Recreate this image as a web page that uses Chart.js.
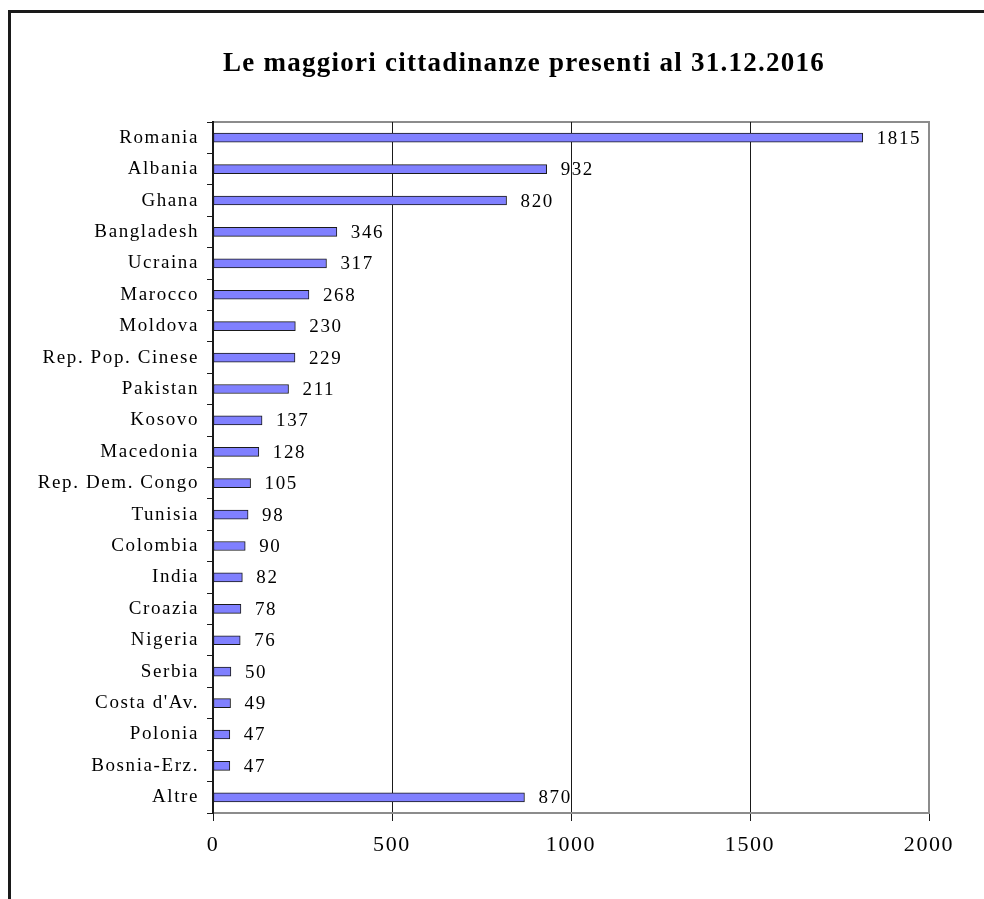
<!DOCTYPE html>
<html>
<head>
<meta charset="utf-8">
<script src="https://cdn.jsdelivr.net/npm/chart.js@4"></script>
<style>
  html, body { margin: 0; padding: 0; background: #fff; }
  #wrap { position: relative; width: 984px; height: 899px; }
  #frame {
    position: absolute; left: 8px; top: 10px; right: 0; bottom: 0;
    border-left: 3px solid #1a1a1a; border-top: 3px solid #1a1a1a;
  }
  canvas { position: absolute; left: 0; top: 0; }
</style>
</head>
<body>
<div id="wrap">
  <div id="frame"></div>
  <canvas id="chart" width="984" height="899"></canvas>
</div>
<script>
// Chart data
const chartTitle = "Le maggiori cittadinanze presenti al 31.12.2016"
const countries = [
  "Romania", "Albania", "Ghana", "Bangladesh", "Ucraina", "Marocco", "Moldova",
  "Rep. Pop. Cinese", "Pakistan", "Kosovo", "Macedonia", "Rep. Dem. Congo",
  "Tunisia", "Colombia", "India", "Croazia", "Nigeria", "Serbia",
  "Costa d'Av.", "Polonia", "Bosnia-Erz.", "Altre"
]
const residents = [
  1815, 932, 820, 346, 317, 268, 230,
  229, 211, 137, 128, 105,
  98, 90, 82, 78, 76, 50,
  49, 47, 47, 870
]
const xTicks = [0, 500, 1000, 1500, 2000]

const serif = "'Liberation Serif', 'DejaVu Serif', serif"

// gray frame round the plot area (drawn before the axes) + wide letter spacing for all text
const plotFrame = {
  id: "plotFrame",
  beforeDraw(chart) {
    const { ctx, chartArea: a } = chart
    ctx.letterSpacing = "1.6px"
    ctx.save()
    ctx.strokeStyle = "#8c8c8c"
    ctx.lineWidth = 2
    ctx.strokeRect(a.left, a.top, a.right - a.left, a.bottom - a.top)
    ctx.restore()
  },
}

// value labels at the end of each bar, and the title
const valueLabels = {
  id: "valueLabels",
  afterDatasetsDraw(chart) {
    const { ctx } = chart
    const meta = chart.getDatasetMeta(0)
    ctx.save()
    ctx.font = "19px " + serif
    ctx.fillStyle = "#000"
    ctx.textAlign = "left"
    ctx.textBaseline = "middle"
    meta.data.forEach((bar, i) => {
      ctx.fillText(String(residents[i]), bar.x + 14, bar.y + 1)
    })
    ctx.restore()
  },
  afterDraw(chart) {
    const { ctx } = chart
    ctx.save()
    ctx.letterSpacing = "1.25px"
    ctx.font = "bold 27px " + serif
    ctx.fillStyle = "#000"
    ctx.textAlign = "left"
    ctx.textBaseline = "alphabetic"
    ctx.fillText(chartTitle, 223, 71)
    ctx.restore()
  },
}

new Chart(document.getElementById("chart"), {
  type: "bar",
  data: {
    labels: countries,
    datasets: [
      {
        data: residents,
        backgroundColor: "#8080ff",
        borderColor: "#1a1a1a",
        borderWidth: 1,
        borderSkipped: false,
        barThickness: 9,
      },
    ],
  },
  options: {
    indexAxis: "y",
    responsive: false,
    animation: false,
    layout: {
      padding: { top: 122, right: 55, bottom: 0, left: 0 },
    },
    plugins: {
      legend: { display: false },
      tooltip: { enabled: false },
      title: { display: false },
    },
    scales: {
      x: {
        min: 0,
        max: 2000,
        afterBuildTicks: (s) => {
          s.ticks = xTicks.map((v) => ({ value: v }))
        },
        afterFit: (s) => {
          s.height = 86
        },
        ticks: {
          color: "#000",
          font: { family: serif, size: 22 },
          padding: 11,
          maxRotation: 0,
          callback: (v) => String(v),
        },
        grid: {
          color: (c) => (c.tick && c.tick.value === 2000 ? "#8c8c8c" : "#1a1a1a"),
          tickColor: "#1a1a1a",
          tickLength: 8,
          lineWidth: 1,
        },
        border: { color: "#8c8c8c", width: 2 },
      },
      y: {
        afterFit: (s) => {
          s.width = 213
        },
        ticks: {
          color: "#000",
          font: { family: serif, size: 19 },
          padding: 8,
          autoSkip: false,
        },
        grid: {
          offset: true,
          drawOnChartArea: false,
          color: "#1a1a1a",
          tickLength: 6,
        },
        border: { color: "#1a1a1a", width: 2 },
      },
    },
  },
  plugins: [plotFrame, valueLabels],
})
</script>
</body>
</html>
